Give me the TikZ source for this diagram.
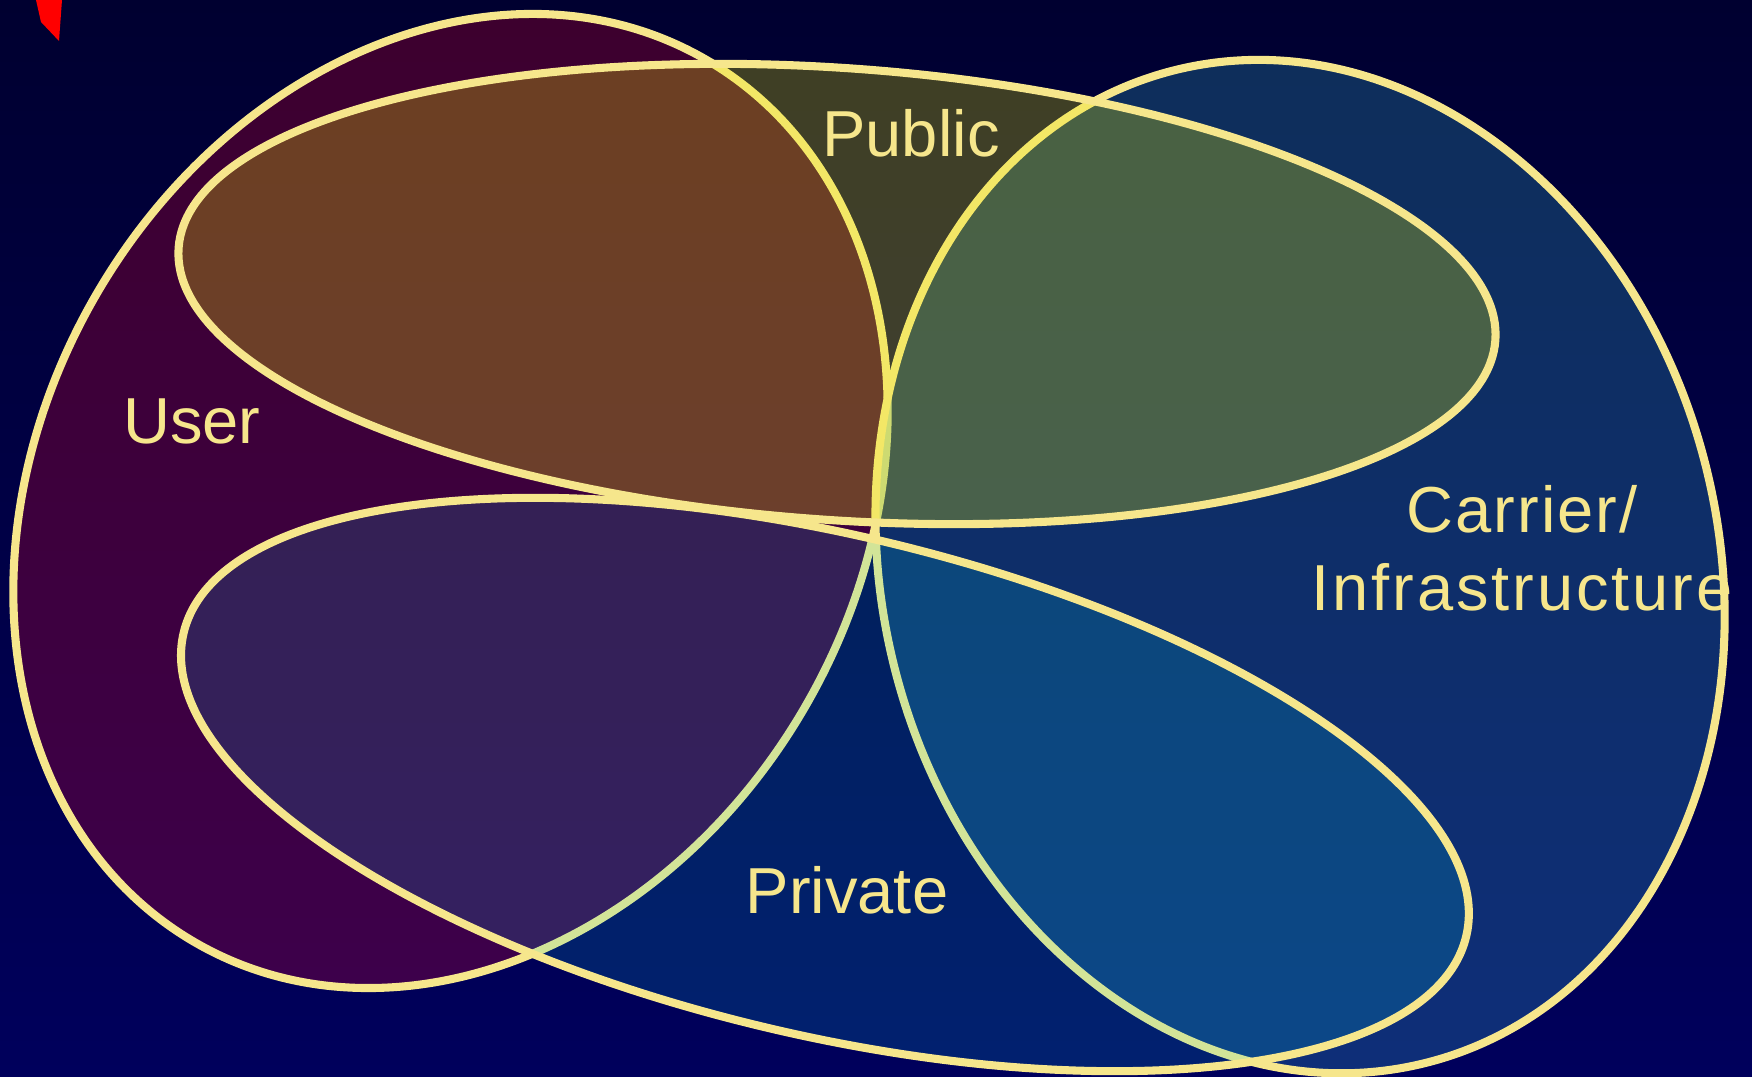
\documentclass[tikz,border=0pt]{standalone}
\usepackage{fontspec}
\setmainfont{Liberation Sans}
\usepackage{tikz, xcolor}
\definecolor{bgtop}{RGB}{0,0,48}
\definecolor{bgbottom}{RGB}{0,0,92}
\definecolor{rim}{RGB}{246,230,140}
\definecolor{usercol}{RGB}{226,0,40}
\definecolor{carriercol}{RGB}{55,170,200}
\definecolor{publiccol}{RGB}{235,235,0}
\definecolor{privatecol}{RGB}{7,220,227}

\begin{document}
\begin{tikzpicture}[
    blob/.style={draw=rim, line width=2.3pt},
    tint/.style={fill=#1, fill opacity=0.27},
    lbl/.style={text=rim, inner sep=0pt, font=\fontsize{18.5}{22.2}\selectfont}]
    \useasboundingbox (0,0) rectangle (17.52,10.77);
    \shade [top color=bgtop, bottom color=bgbottom] (0,0) rectangle (17.52,10.77);
    \fill [red] (0.36,10.77) -- (0.62,10.77) -- (0.59,10.36) -- (0.41,10.55) -- cycle;

    \coordinate (user) at (4.505,5.76);
    \coordinate (carrier) at (13.0,5.105);
    \coordinate (public) at (8.37,7.83);
    \coordinate (private) at (8.25,2.925);

    \fill [tint=usercol, rotate around={60:(user)}] (user) ellipse (5.10 and 4.10);
    \draw [blob, rotate around={60:(user)}] (user) ellipse (5.10 and 4.10);
    \fill [tint=carriercol, rotate around={104.5:(carrier)}] (carrier) ellipse (5.12 and 4.18);
    \draw [blob, rotate around={104.5:(carrier)}] (carrier) ellipse (5.12 and 4.18);
    \fill [tint=publiccol, rotate around={-4:(public)}] (public) ellipse (6.60 and 2.26);
    \draw [blob, rotate around={-4:(public)}] (public) ellipse (6.60 and 2.26);
    \fill [tint=privatecol, fill opacity=0.15, rotate around={-13.3:(private)}] (private) ellipse (6.59 and 2.50);
    \draw [blob, rotate around={-13.3:(private)}] (private) ellipse (6.59 and 2.50);

    \node [lbl, anchor=base] (publiclbl) at (9.11,9.20) {Public};
    \node [lbl, anchor=base] (userlbl) at (1.92,6.33) {User};
    \node [lbl, anchor=base] (privatelbl) at (8.47,1.63) {Private};
    \node [lbl, align=center] (carrierlbl) at (15.22,5.29)
        {\addfontfeatures{LetterSpace=3}Carrier/\\\addfontfeatures{LetterSpace=4.5}Infrastructure};
\end{tikzpicture}
\end{document}
